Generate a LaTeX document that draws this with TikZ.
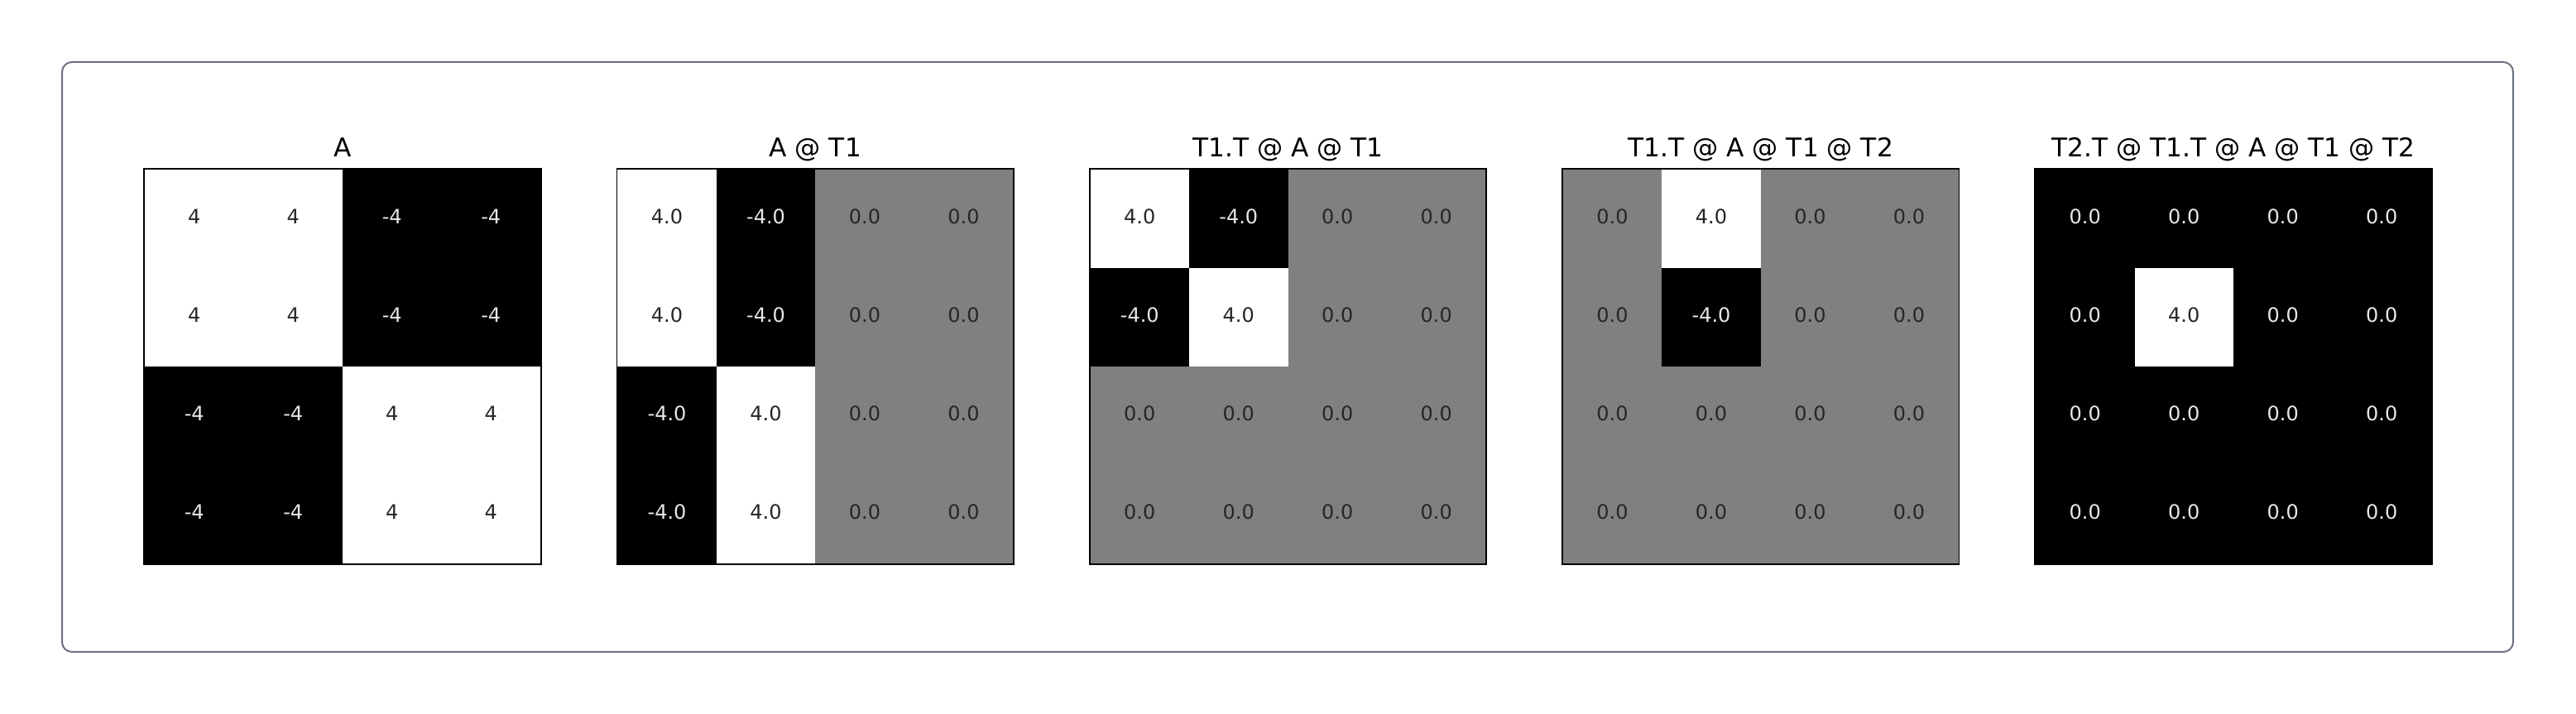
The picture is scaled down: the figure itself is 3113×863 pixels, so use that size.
\documentclass[tikz,border=0pt]{standalone}
\usepackage{fontspec}
\setmainfont{DejaVu Sans}
\definecolor{framec}{RGB}{107,114,128}
\definecolor{midgray}{RGB}{128,128,128}
\definecolor{darktxt}{RGB}{38,38,38}
\definecolor{lighttxt}{RGB}{232,232,232}
\newcommand\drawmat[4]{%
  \node[mtitle] (t#1) at ({#2+239},190) {#3};
  \foreach \cs/\ts/\v [count=\i from 0] in {#4} {
    \pgfmathtruncatemacro\rr{int(\i/4)}
    \pgfmathtruncatemacro\cc{mod(\i,4)}
    \pgfmathsetmacro\xx{#2+(\cc+0.5)*119.5}
    \pgfmathsetmacro\yy{205+(\rr+0.5)*119}
    \node[\cs] (m#1-\rr-\cc) at (\xx,\yy) {};
    \node[\ts] (v#1-\rr-\cc) at ([yshift=0.8pt]m#1-\rr-\cc.center) {\v};
  }
  \draw[mborder] (m#1-0-0.north west) rectangle (m#1-3-3.south east);
}
\begin{document}
\begin{tikzpicture}[x=0.25pt,y=-0.25pt,
  cellbase/.style={rectangle, inner sep=0, minimum width=29.875pt, minimum height=29.75pt, draw=none},
  cw/.style={cellbase, fill=white},
  ck/.style={cellbase, fill=black},
  cg/.style={cellbase, fill=midgray},
  numbase/.style={font=\fontsize{6}{7}\selectfont, inner sep=0},
  tw/.style={numbase, text=darktxt},
  tk/.style={numbase, text=lighttxt},
  tg/.style={numbase, text=darktxt},
  mtitle/.style={font=\fontsize{7.8}{9}\selectfont, anchor=base, inner sep=0, text=black},
  mborder/.style={draw=black, line width=0.45pt},
  framebox/.style={draw=framec, line width=0.5pt, rounded corners=3pt}
]
\useasboundingbox (0,0) rectangle (3113,863);
\fill[white] (0,0) rectangle (3113,863);
\draw[framebox] (75,75) rectangle (3037,788);
\drawmat{1}{175}{A}{cw/tw/4,cw/tw/4,ck/tk/-4,ck/tk/-4,
  cw/tw/4,cw/tw/4,ck/tk/-4,ck/tk/-4,
  ck/tk/-4,ck/tk/-4,cw/tw/4,cw/tw/4,
  ck/tk/-4,ck/tk/-4,cw/tw/4,cw/tw/4}
\drawmat{2}{746.25}{A @ T1}{cw/tw/4.0,ck/tk/-4.0,cg/tg/0.0,cg/tg/0.0,
  cw/tw/4.0,ck/tk/-4.0,cg/tg/0.0,cg/tg/0.0,
  ck/tk/-4.0,cw/tw/4.0,cg/tg/0.0,cg/tg/0.0,
  ck/tk/-4.0,cw/tw/4.0,cg/tg/0.0,cg/tg/0.0}
\drawmat{3}{1317.5}{T1.T @ A @ T1}{cw/tw/4.0,ck/tk/-4.0,cg/tg/0.0,cg/tg/0.0,
  ck/tk/-4.0,cw/tw/4.0,cg/tg/0.0,cg/tg/0.0,
  cg/tg/0.0,cg/tg/0.0,cg/tg/0.0,cg/tg/0.0,
  cg/tg/0.0,cg/tg/0.0,cg/tg/0.0,cg/tg/0.0}
\drawmat{4}{1888.75}{T1.T @ A @ T1 @ T2}{cg/tg/0.0,cw/tw/4.0,cg/tg/0.0,cg/tg/0.0,
  cg/tg/0.0,ck/tk/-4.0,cg/tg/0.0,cg/tg/0.0,
  cg/tg/0.0,cg/tg/0.0,cg/tg/0.0,cg/tg/0.0,
  cg/tg/0.0,cg/tg/0.0,cg/tg/0.0,cg/tg/0.0}
\drawmat{5}{2460}{T2.T @ T1.T @ A @ T1 @ T2}{ck/tk/0.0,ck/tk/0.0,ck/tk/0.0,ck/tk/0.0,
  ck/tk/0.0,cw/tw/4.0,ck/tk/0.0,ck/tk/0.0,
  ck/tk/0.0,ck/tk/0.0,ck/tk/0.0,ck/tk/0.0,
  ck/tk/0.0,ck/tk/0.0,ck/tk/0.0,ck/tk/0.0}
\end{tikzpicture}
\end{document}
